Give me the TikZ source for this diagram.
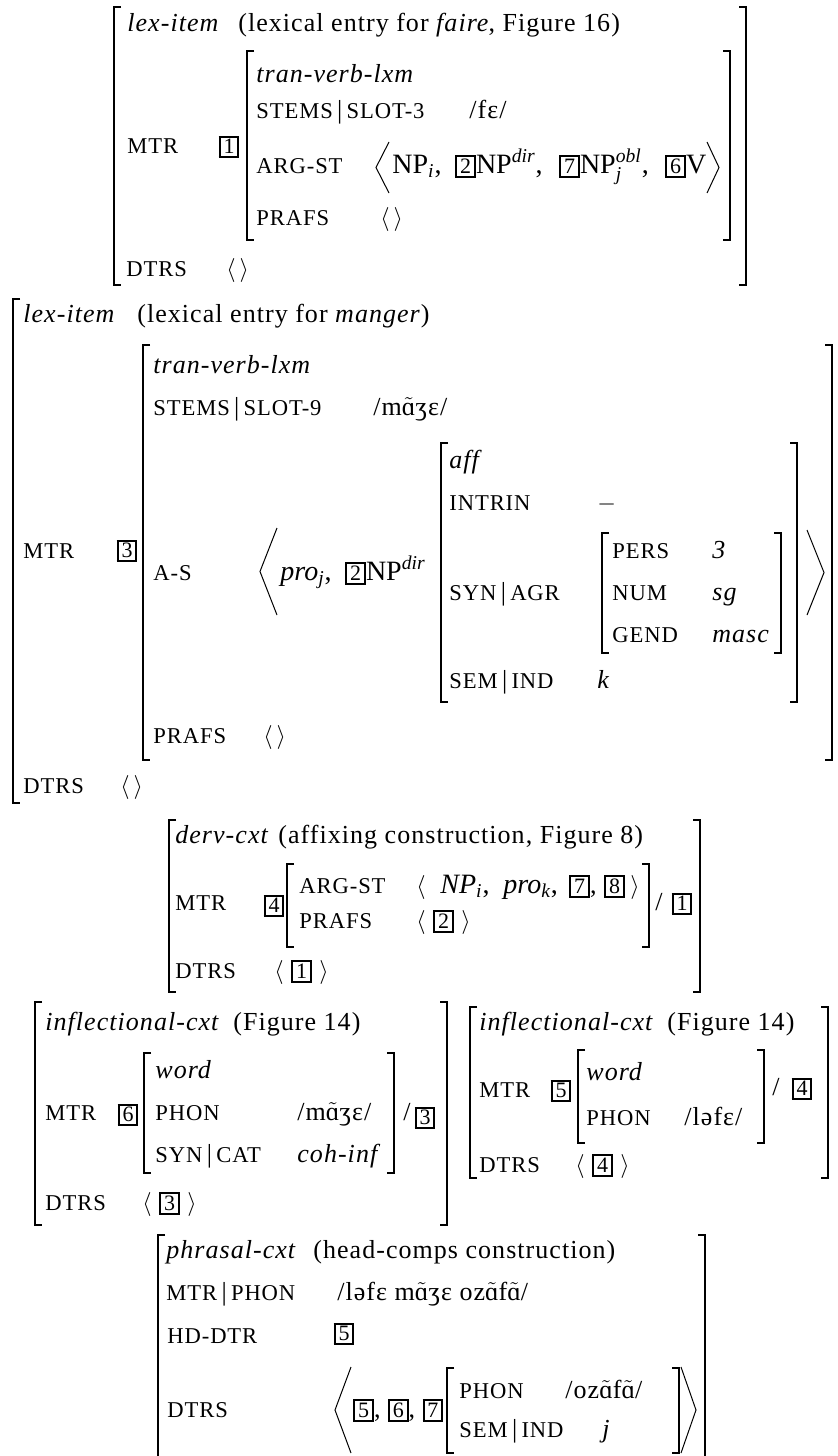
\documentclass[tikz,border=0pt]{standalone}
\usepackage{fontspec}
\usepackage{amsmath}
\setmainfont{Liberation Serif}[LetterSpace=4]
\usetikzlibrary{positioning}

% boxed tag, nasal vowel, path bar, brackets
\newcommand{\tg}[1]{{\setlength{\fboxrule}{1pt}\setlength{\fboxsep}{0.8pt}\fbox{\fontsize{11}{11}\selectfont\addfontfeature{LetterSpace=0}\rule[-0.6pt]{0pt}{7.2pt}\hspace{0.6pt}#1\hspace{0.6pt}}}}
\newcommand{\nasa}{$\tilde{\text{ɑ}}$}
\newcommand{\fbar}{{\fontsize{13}{13}\selectfont\,|\,}}
\newcommand{\lbrk}[3]{\draw[brk] (#1+7,#2) -- (#1,#2) -- (#1,#3) -- (#1+7,#3);}
\newcommand{\rbrk}[3]{\draw[brk] (#1-7,#2) -- (#1,#2) -- (#1,#3) -- (#1-7,#3);}
\newcommand{\langbig}[4]{\draw[ang] (#1+#4,#2) -- (#1,{(#2+#3)/2}) -- (#1+#4,#3);}
\newcommand{\rangbig}[4]{\draw[ang] (#1-#4,#2) -- (#1,{(#2+#3)/2}) -- (#1-#4,#3);}

\begin{document}
\begin{tikzpicture}[
    x=0.5pt, y=-0.5pt,
    brk/.style={line width=0.9pt},
    ang/.style={line width=0.5pt},
    lab/.style={anchor=base west, inner sep=0pt, font=\fontsize{13}{14}\selectfont},
    feat/.style={lab, font=\fontsize{11.3}{12}\selectfont},
    arglist/.style={lab, font=\fontsize{14}{15}\selectfont\addfontfeature{LetterSpace=0}}
]
\fill[white] (0,0) rectangle (838,1456);
\useasboundingbox (0,0) rectangle (838,1456);

% lexical entry for faire
\lbrk{114}{7}{285} \rbrk{746}{7}{285}
\node[lab] (fType) at (127,32) {\textit{lex-item}};
\node[lab] (fNote) at (238,32) {(lexical entry for \textit{faire}, Figure 16)};
\node[feat] (fMtr) at (127,153) {MTR};
\node[lab, anchor=center] (fTag) at (229,147) {\tg{1}};
\lbrk{247}{51}{240} \rbrk{730}{51}{240}
\node[lab] (fSort) at (256,82) {\textit{tran-verb-lxm}};
\node[feat] (fStems) at (256,118) {STEMS\fbar SLOT-3};
\node[lab] (fStemsV) at (469,118) {/fɛ/};
\node[feat] (fArg) at (256,173) {ARG-ST};
\langbig{376}{142}{193}{13}
\node[arglist] (fArg1) at (392,173) {NP$_{\textit{i}}$,};
\node[arglist] (fArg2) at (455,173) {\tg{2}NP$^{\textit{dir}}$,};
\node[arglist] (fArg3) at (559,173) {\tg{7}NP$^{\textit{obl}}_{\textit{j}}$,};
\node[arglist] (fArg4) at (665,173) {\tg{6}V};
\rangbig{719}{142}{193}{12}
\node[feat] (fPrafs) at (256,225) {PRAFS};
\node[lab] (fPrafsV) at (380,225) {$\langle\,\rangle$};
\node[feat] (fDtrs) at (126,276) {DTRS};
\node[lab] (fDtrsV) at (226,276) {$\langle\,\rangle$};

% lexical entry for manger
\lbrk{13}{299}{803}
\node[lab] (mType) at (23,322) {\textit{lex-item}};
\node[lab] (mNote) at (137,322) {(lexical entry for \textit{manger})};
\node[feat] (mMtr) at (23,558) {MTR};
\node[lab, anchor=center] (mTag) at (127,551) {\tg{3}};
\lbrk{143}{345}{760} \rbrk{832}{345}{760}
\node[lab] (mSort) at (153,373) {\textit{tran-verb-lxm}};
\node[feat] (mStems) at (153,415) {STEMS\fbar SLOT-9};
\node[lab] (mStemsV) at (373,415) {/m\nasa{}ʒɛ/};
\node[feat] (mArg) at (153,580) {A-S};
\langbig{260}{528}{615}{17}
\node[arglist] (mArg1) at (280,580) {\textit{pro}$_{\textit{j}}$,};
\node[arglist] (mArg2) at (345,580) {\tg{2}NP$^{\textit{dir}}$};
\lbrk{441}{443}{702} \rbrk{797}{443}{702}
\node[lab] (aSort) at (449,468) {\textit{aff}};
\node[feat] (aIntrin) at (449,510) {INTRIN};
\node[lab] (aIntrinV) at (597,510) {$-$};
\node[feat] (aAgr) at (449,600) {SYN\fbar AGR};
\lbrk{602}{533}{653} \rbrk{781}{533}{653}
\node[feat] (gPers) at (612,558) {PERS};
\node[lab] (gPersV) at (712,558) {\textit{3}};
\node[feat] (gNum) at (612,600) {NUM};
\node[lab] (gNumV) at (712,600) {\textit{sg}};
\node[feat] (gGend) at (612,642) {GEND};
\node[lab] (gGendV) at (712,642) {\textit{masc}};
\node[feat] (aInd) at (449,688) {SEM\fbar IND};
\node[lab] (aIndV) at (597,688) {\textit{k}};
\rangbig{824}{530}{615}{17}
\node[feat] (mPrafs) at (153,743) {PRAFS};
\node[lab] (mPrafsV) at (263,743) {$\langle\,\rangle$};
\node[feat] (mDtrs) at (23,793) {DTRS};
\node[lab] (mDtrsV) at (120,793) {$\langle\,\rangle$};

% affixing construction
\lbrk{169}{820}{992} \rbrk{700}{820}{992}
\node[lab] (dType) at (175,843) {\textit{derv-cxt}};
\node[lab] (dNote) at (278,843) {(affixing construction, Figure 8)};
\node[feat] (dMtr) at (175,910) {MTR};
\node[lab, anchor=center] (dTag) at (274,906) {\tg{4}};
\lbrk{287}{864}{947} \rbrk{649}{864}{947}
\node[feat] (dArg) at (299,893) {ARG-ST};
\node[lab] (dArgL) at (416,893) {$\langle$};
\node[arglist] (dArg1) at (440,893) {\textit{NP}$_{\textit{i}}$,};
\node[arglist] (dArg2) at (503,893) {\textit{pro}$_{\textit{k}}$,};
\node[lab] (dArg3) at (569,893) {\tg{7},};
\node[lab] (dArg4) at (604,893) {\tg{8}};
\node[lab] (dArgR) at (630,893) {$\rangle$};
\node[feat] (dPrafs) at (299,928) {PRAFS};
\node[lab] (dPrafsV) at (416,928) {$\langle$ \tg{2} $\rangle$};
\node[lab] (dSlash) at (655,910) {/};
\node[lab, anchor=center] (dDef) at (682,904) {\tg{1}};
\node[feat] (dDtrs) at (175,978) {DTRS};
\node[lab] (dDtrsV) at (274,978) {$\langle$ \tg{1} $\rangle$};

% inflectional construction, manger
\lbrk{35}{1002}{1225} \rbrk{447}{1002}{1225}
\node[lab] (lType) at (45,1030) {\textit{inflectional-cxt}};
\node[lab] (lNote) at (233,1030) {(Figure 14)};
\node[feat] (lMtr) at (45,1120) {MTR};
\node[lab, anchor=center] (lTag) at (128,1115) {\tg{6}};
\lbrk{144}{1053}{1173} \rbrk{394}{1053}{1173}
\node[lab] (lSort) at (155,1078) {\textit{word}};
\node[feat] (lPhon) at (155,1120) {PHON};
\node[lab] (lPhonV) at (297,1120) {/m\nasa{}ʒɛ/};
\node[feat] (lCat) at (155,1162) {SYN\fbar CAT};
\node[lab] (lCatV) at (297,1162) {\textit{coh-inf}};
\node[lab] (lSlash) at (403,1120) {/};
\node[lab, anchor=center] (lDef) at (425,1118) {\tg{3}};
\node[feat] (lDtrs) at (45,1210) {DTRS};
\node[lab] (lDtrsV) at (142,1210) {$\langle$ \tg{3} $\rangle$};

% inflectional construction, le faire
\lbrk{470}{1007}{1178} \rbrk{828}{1007}{1178}
\node[lab] (rType) at (479,1030) {\textit{inflectional-cxt}};
\node[lab] (rNote) at (667,1030) {(Figure 14)};
\node[feat] (rMtr) at (479,1097) {MTR};
\node[lab, anchor=center] (rTag) at (561,1091) {\tg{5}};
\lbrk{578}{1050}{1143} \rbrk{764}{1050}{1143}
\node[lab] (rSort) at (586,1080) {\textit{word}};
\node[feat] (rPhon) at (586,1125) {PHON};
\node[lab] (rPhonV) at (684,1125) {/ləfɛ/};
\node[lab] (rSlash) at (772,1095) {/};
\node[lab, anchor=center] (rDef) at (802,1089) {\tg{4}};
\node[feat] (rDtrs) at (479,1172) {DTRS};
\node[lab] (rDtrsV) at (575,1172) {$\langle$ \tg{4} $\rangle$};

% head-comps construction
\lbrk{158}{1235}{1470} \rbrk{705}{1235}{1470}
\node[lab] (pType) at (166,1258) {\textit{phrasal-cxt}};
\node[lab] (pNote) at (313,1258) {(head-comps construction)};
\node[feat] (pPhon) at (166,1300) {MTR\fbar PHON};
\node[lab] (pPhonV) at (337,1300) {/ləfɛ m\nasa{}ʒɛ oz\nasa{}f\nasa{}/};
\node[feat] (pHead) at (167,1343) {HD-DTR};
\node[lab, anchor=center] (pHeadV) at (344,1334) {\tg{5}};
\node[feat] (pDtrs) at (167,1417) {DTRS};
\langbig{335}{1367}{1453}{16}
\node[lab] (pDtrsV) at (353,1417) {\tg{5}, \tg{6}, \tg{7}};
\lbrk{447}{1368}{1453} \rbrk{679}{1368}{1453}
\node[feat] (oPhon) at (459,1398) {PHON};
\node[lab] (oPhonV) at (565,1398) {/oz\nasa{}f\nasa{}/};
\node[feat] (oInd) at (459,1437) {SEM\fbar IND};
\node[lab] (oIndV) at (602,1437) {\textit{j}};
\rangbig{696}{1367}{1453}{15}

\end{tikzpicture}
\end{document}
